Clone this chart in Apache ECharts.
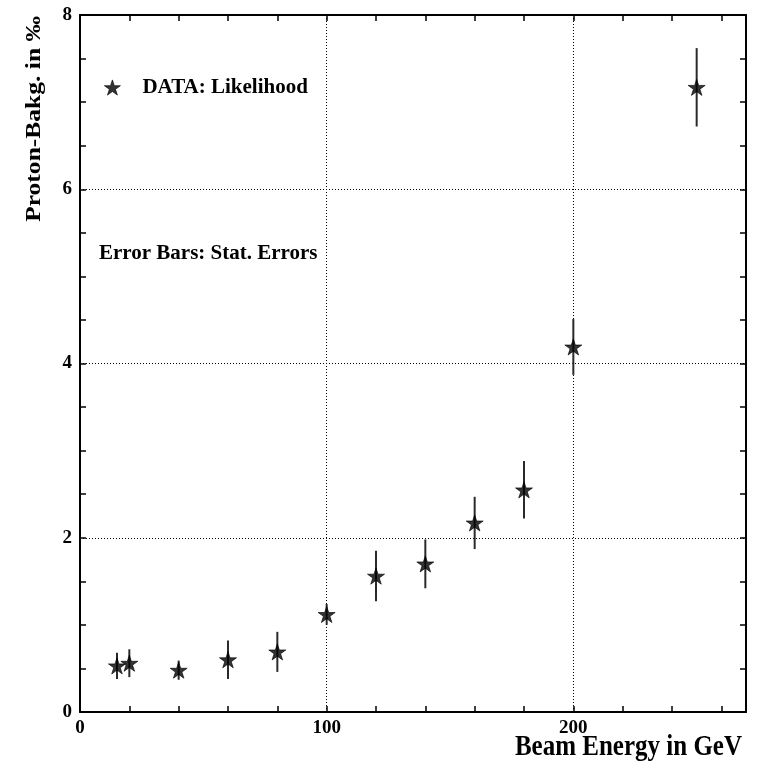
<!DOCTYPE html>
<html>
<head>
<meta charset="utf-8">
<script src="https://cdn.jsdelivr.net/npm/echarts@6/dist/echarts.min.js"></script>
<style>
  html, body { margin: 0; padding: 0; background: #fff; }
  #chart { width: 761px; height: 762px; }
</style>
</head>
<body>
<div id="chart"></div>
<script>
// Beam energies (GeV), proton background (per mille) and statistical errors
var energies = [15, 20, 40, 60, 80, 100, 120, 140, 160, 180, 200, 250];
var background = [0.53, 0.56, 0.48, 0.60, 0.69, 1.12, 1.56, 1.70, 2.17, 2.55, 4.19, 7.17];
var statErrors = [0.15, 0.16, 0.11, 0.22, 0.23, 0.12, 0.29, 0.28, 0.30, 0.33, 0.32, 0.45];

var xLabelValues = [0, 100, 200];
var yLabelValues = [0, 2, 4, 6, 8];

var FONT = '"Liberation Serif", "Times New Roman", serif';
var STAR = 'path://M0,-100L22.45,-30.9L95.1,-30.9L36.33,11.8L58.78,80.9L0,38.2L-58.78,80.9L-36.33,11.8L-95.1,-30.9L-22.45,-30.9Z';

var points = energies.map(function (e, i) { return [e, background[i]]; });
var bars = energies.map(function (e, i) { return [e, background[i], statErrors[i]]; });

var frameLine = { show: true, onZero: false, lineStyle: { color: '#000', width: 2 } };
var innerTicks = { show: true, inside: true, length: 6, lineStyle: { color: '#000', width: 1.5 } };
var dotted = { show: true, lineStyle: { color: '#000', width: 1, type: [1, 2] } };

var chart = echarts.init(document.getElementById('chart'), null, { renderer: 'canvas' });
chart.setOption({
  animation: false,
  backgroundColor: '#fff',
  grid: { left: 80, right: 15, top: 15, bottom: 50, containLabel: false },
  legend: {
    data: ['DATA: Likelihood'],
    left: 104, top: 77, padding: 0,
    icon: STAR, itemWidth: 16, itemHeight: 16,
    itemStyle: { color: '#000', borderColor: '#000', borderWidth: 0.8 },
    textStyle: { fontFamily: FONT, fontWeight: 'bold', fontSize: 21, color: '#000', padding: [0, 0, 0, 17] }
  },
  xAxis: [
    {
      type: 'value', position: 'bottom', min: 0, max: 270, interval: 20,
      axisLine: frameLine, axisTick: innerTicks, splitLine: { show: false },
      axisLabel: {
        show: true, margin: 7, showMaxLabel: false, color: '#000',
        fontFamily: FONT, fontWeight: 'bold', fontSize: 19,
        formatter: function (v) { return xLabelValues.indexOf(v) >= 0 ? String(v) : ''; }
      }
    },
    {
      type: 'value', position: 'top', min: 0, max: 270, interval: 20,
      axisLine: frameLine, axisTick: innerTicks, axisLabel: { show: false }, splitLine: { show: false }
    },
    {
      type: 'value', position: 'bottom', min: 0, max: 270, interval: 100,
      axisLine: { show: false }, axisTick: { show: false }, axisLabel: { show: false },
      splitLine: dotted
    }
  ],
  yAxis: [
    {
      type: 'value', position: 'left', min: 0, max: 8, interval: 0.5,
      axisLine: frameLine, axisTick: innerTicks, splitLine: { show: false },
      axisLabel: {
        show: true, margin: 8, color: '#000',
        fontFamily: FONT, fontWeight: 'bold', fontSize: 19,
        formatter: function (v) { return yLabelValues.indexOf(v) >= 0 ? String(v) : ''; }
      }
    },
    {
      type: 'value', position: 'right', min: 0, max: 8, interval: 0.5,
      axisLine: frameLine, axisTick: innerTicks, axisLabel: { show: false }, splitLine: { show: false }
    },
    {
      type: 'value', position: 'left', min: 0, max: 8, interval: 2,
      axisLine: { show: false }, axisTick: { show: false }, axisLabel: { show: false },
      splitLine: dotted
    }
  ],
  series: [
    {
      name: 'Stat. errors',
      type: 'custom',
      xAxisIndex: 0, yAxisIndex: 0,
      data: bars,
      z: 3,
      renderItem: function (params, api) {
        var x = api.value(0), y = api.value(1), e = api.value(2);
        var lo = api.coord([x, y - e]);
        var hi = api.coord([x, y + e]);
        return {
          type: 'line',
          shape: { x1: lo[0], y1: lo[1], x2: hi[0], y2: hi[1] },
          style: { stroke: '#2a2a2a', lineWidth: 2 }
        };
      }
    },
    {
      name: 'DATA: Likelihood',
      type: 'scatter',
      xAxisIndex: 0, yAxisIndex: 0,
      data: points,
      symbol: STAR, symbolSize: 17, symbolKeepAspect: true,
      itemStyle: { color: '#000', borderColor: '#000', borderWidth: 0.8 },
      z: 4
    }
  ],
  graphic: [
    {
      type: 'text', left: 99, top: 243,
      style: { text: 'Error Bars: Stat. Errors', font: 'bold 21px ' + FONT, fill: '#000' }
    },
    {
      type: 'text', x: 742, y: 748, scaleY: 1.15,
      style: { text: 'Beam Energy in GeV', font: 'bold 25px ' + FONT, fill: '#000',
               textAlign: 'right', textVerticalAlign: 'middle' }
    },
    {
      type: 'text', x: 34, y: 16, rotation: Math.PI / 2, scaleX: 1.16,
      style: { text: 'Proton-Bakg. in \u2030', font: 'bold 22px ' + FONT, fill: '#000',
               textAlign: 'right', textVerticalAlign: 'middle' }
    }
  ]
});
</script>
</body>
</html>
